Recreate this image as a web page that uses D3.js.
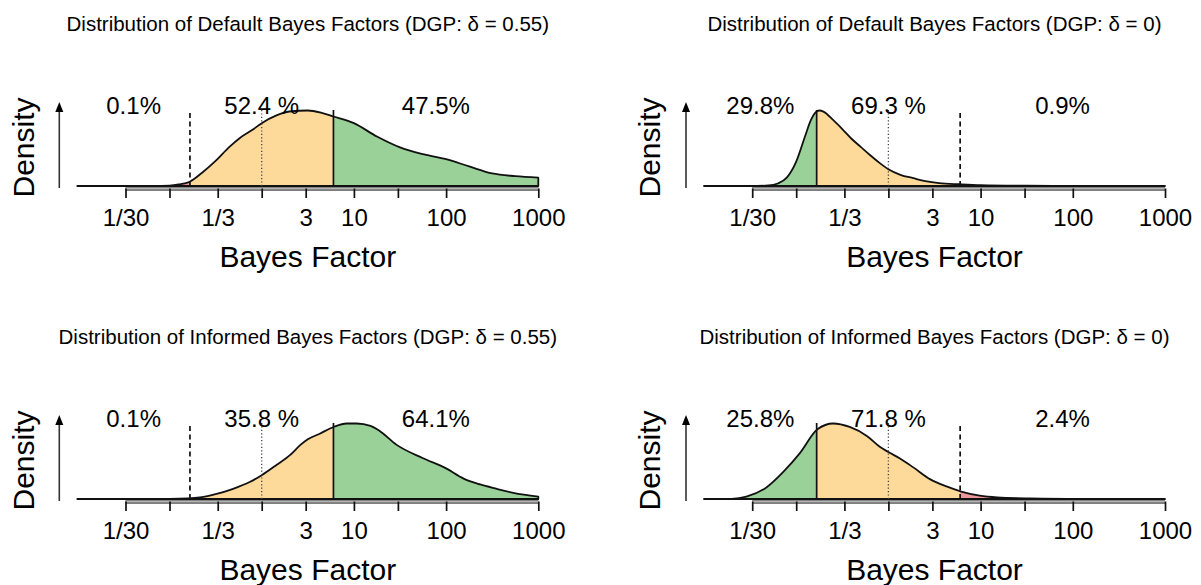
<!DOCTYPE html>
<html>
<head>
<meta charset="utf-8">
<script src="https://cdn.jsdelivr.net/npm/d3@7"></script>
<style>
body { margin: 0; background: #fff; }
text { font-family: "Liberation Sans", Arial, sans-serif; fill: #000; }
</style>
</head>
<body>
<div id="chart"></div>
<script>
// log10(BF) positions and density heights
var tl_x = [-2, -1.5, -1.2, -1.0, -0.9, -0.78, -0.65, -0.5, -0.35, -0.24, -0.1, 0, 0.16, 0.3, 0.5, 0.65, 0.78, 1.0, 1.25, 1.5, 1.75, 2.0, 2.25, 2.5, 2.75, 3.0];
var tl_y = [0, 0, 0.1, 0.4, 1.5, 4.3, 13, 25, 39, 47.7, 56, 62.7, 70.5, 74.3, 75.3, 73, 69.3, 62.7, 49.3, 38.5, 31.7, 26.7, 19.5, 12.5, 9.8, 8.3];

var tr_x = [-2, -1.5, -1.3, -1.2, -1.1, -1.0, -0.9, -0.84, -0.79, -0.75, -0.7, -0.6, -0.5, -0.4, -0.3, -0.2, -0.1, 0, 0.13, 0.27, 0.4, 0.55, 0.78, 1.0, 1.5, 2.0, 3.0];
var tr_y = [0, 0, 0.5, 2.5, 8.5, 24, 50, 65, 72.5, 74.3, 73, 65, 56, 46.5, 38.5, 30.5, 23, 16.5, 11, 7.7, 4.8, 2.8, 1.7, 0.9, 0.3, 0.1, 0];

var bl_x = [-2, -1.0, -0.8, -0.67, -0.49, -0.31, -0.13, 0, 0.16, 0.31, 0.42, 0.5, 0.63, 0.78, 0.92, 1.03, 1.18, 1.28, 1.46, 1.75, 2.0, 2.19, 2.37, 2.55, 2.73, 3.0];
var bl_y = [0, 0.1, 0.6, 1.6, 5, 10, 16.6, 23.3, 33.3, 43.3, 53, 58.5, 64, 70.6, 74, 74, 71.6, 66.6, 53.3, 40, 30, 20, 14.3, 10, 6, 2.3];

var br_x = [-2, -1.7, -1.54, -1.32, -1.14, -0.96, -0.77, -0.6, -0.42, -0.23, -0.09, 0, 0.13, 0.27, 0.45, 0.63, 0.79, 0.99, 1.18, 1.54, 2.1, 3.0];
var br_y = [0, 0.2, 2.3, 11.6, 26.6, 45, 68.3, 74, 70.6, 61.6, 51, 46, 39.5, 31, 19.5, 12.3, 7.3, 3.3, 1.6, 0.6, 0.1, 0];

var titles = [
  "Distribution of Default Bayes Factors (DGP: \u03b4 = 0.55)",
  "Distribution of Default Bayes Factors (DGP: \u03b4 = 0)",
  "Distribution of Informed Bayes Factors (DGP: \u03b4 = 0.55)",
  "Distribution of Informed Bayes Factors (DGP: \u03b4 = 0)"
];
var pct_tl = ["0.1%", "52.4 %", "47.5%"];
var pct_tr = ["29.8%", "69.3 %", "0.9%"];
var pct_bl = ["0.1%", "35.8 %", "64.1%"];
var pct_br = ["25.8%", "71.8 %", "2.4%"];

var tick_bf = [1/30, 1/10, 1/3, 1, 3, 10, 30, 100, 1000];
var tick_labels = ["1/30", "", "1/3", "", "3", "10", "", "100", "1000"];

var orange = "#fdd99a",
    green = "#99d199",
    red = "#ee979b";

var svg = d3.select('#chart')
  .append('svg')
  .attr('width', 1201)
  .attr('height', 585);

var panels = [
  {x0: 77.3, base: 186, xs: tl_x, ys: tl_y, title: titles[0], pct: pct_tl, h0: false},
  {x0: 704, base: 186, xs: tr_x, ys: tr_y, title: titles[1], pct: pct_tr, h0: true},
  {x0: 77.3, base: 499, xs: bl_x, ys: bl_y, title: titles[2], pct: pct_bl, h0: false},
  {x0: 704, base: 499, xs: br_x, ys: br_y, title: titles[3], pct: pct_br, h0: true}
];

panels.forEach(function(p, i) { draw_panel(p, i); });

function draw_panel(p, i) {
  var x = d3.scaleLinear().domain([-2, 3]).range([p.x0, p.x0 + 461]),
      y = d3.scaleLinear().domain([0, d3.max(p.ys)]).range([p.base, p.base - 75.5]),
      lo = Math.log10(1/6),
      hi = Math.log10(6),
      top = p.base - 76,
      pts = p.xs.map(function(d, k) { return [d, p.ys[k]]; });

  var g = svg.append('g');

  // axis line from first to last tick (grey band)
  var ax_y = p.base + 2.5;
  g.append('line')
    .attr('x1', x(Math.log10(tick_bf[0]))).attr('x2', x(3))
    .attr('y1', ax_y).attr('y2', ax_y)
    .attr('stroke', '#555').attr('stroke-width', 4.5);
  g.append('line')
    .attr('x1', x(Math.log10(tick_bf[0]))).attr('x2', x(3))
    .attr('y1', ax_y).attr('y2', ax_y)
    .attr('stroke', '#b4b4b4').attr('stroke-width', 2.2);

  var axis = d3.axisBottom(x)
    .tickValues(tick_bf.map(function(d) { return Math.log10(d); }))
    .tickFormat(function(d, k) { return tick_labels[k]; })
    .tickSize(9.5)
    .tickSizeOuter(0)
    .tickPadding(11);

  var ag = g.append('g')
    .attr('transform', 'translate(0,' + ax_y + ')')
    .call(axis);
  ag.select('.domain').remove();
  ag.selectAll('.tick line').attr('stroke', '#111').attr('stroke-width', 1.7);
  ag.selectAll('.tick text')
    .attr('font-size', '24px')
    .attr('font-family', '"Liberation Sans", Arial, sans-serif')
    .attr('fill', '#000');

  // density split into coloured regions
  var area = d3.area()
    .x(function(d) { return x(d[0]); })
    .y0(p.base)
    .y1(function(d) { return y(d[1]); })
    .curve(d3.curveMonotoneX);

  var bands = [
    [-2, lo, p.h0 ? green : red],
    [lo, hi, orange],
    [hi, 3, p.h0 ? red : green]
  ];
  bands.forEach(function(b, k) {
    var id = 'clip' + i + '_' + k;
    svg.append('clipPath').attr('id', id)
      .append('rect')
      .attr('x', x(b[0])).attr('y', p.base - 110)
      .attr('width', x(b[1]) - x(b[0])).attr('height', 111);
    g.append('path').datum(pts)
      .attr('d', area)
      .attr('fill', b[2])
      .attr('clip-path', 'url(#' + id + ')');
  });

  g.append('path').datum(pts)
    .attr('d', area)
    .attr('fill', 'none')
    .attr('stroke', '#111')
    .attr('stroke-width', 1.8)
    .attr('stroke-linejoin', 'round');

  // cut-off lines
  var cuts = [
    [lo, p.h0 ? null : '5,3.5', '#111', 1.7],
    [0, '1.2,2.2', '#444', 1.3],
    [hi, p.h0 ? '5,3.5' : null, '#111', 1.7]
  ];
  cuts.forEach(function(c) {
    g.append('line')
      .attr('x1', x(c[0])).attr('x2', x(c[0]))
      .attr('y1', p.base).attr('y2', top)
      .attr('stroke', c[2])
      .attr('stroke-width', c[3])
      .attr('stroke-dasharray', c[1]);
  });

  // percentages
  var pct_x = [(-2 + lo) / 2, 0, (hi + 3) / 2];
  p.pct.forEach(function(t, k) {
    g.append('text')
      .attr('x', x(pct_x[k]))
      .attr('y', p.base - 72.4)
      .attr('text-anchor', 'middle')
      .attr('font-size', '24px')
      .text(t);
  });

  // density arrow
  var ar_x = p.x0 - 18;
  g.append('line')
    .attr('x1', ar_x).attr('x2', ar_x)
    .attr('y1', p.base + 2).attr('y2', p.base - 76)
    .attr('stroke', '#333').attr('stroke-width', 1.6);
  g.append('path')
    .attr('d', 'M' + (ar_x - 4) + ',' + (p.base - 74) + 'L' + ar_x + ',' + (p.base - 84) + 'L' + (ar_x + 4) + ',' + (p.base - 74) + 'Z')
    .attr('fill', '#000');

  g.append('text')
    .attr('transform', 'translate(' + (p.x0 - 43.8) + ',' + (p.base - 38.5) + ') rotate(-90)')
    .attr('text-anchor', 'middle')
    .attr('font-size', '30px')
    .text('Density');

  g.append('text')
    .attr('x', x(0.5))
    .attr('y', p.base + 81)
    .attr('text-anchor', 'middle')
    .attr('font-size', '30px')
    .text('Bayes Factor');

  g.append('text')
    .attr('x', x(0.5))
    .attr('y', p.base - 155)
    .attr('text-anchor', 'middle')
    .attr('font-size', '20.5px')
    .text(p.title);
}
</script>
</body>
</html>
